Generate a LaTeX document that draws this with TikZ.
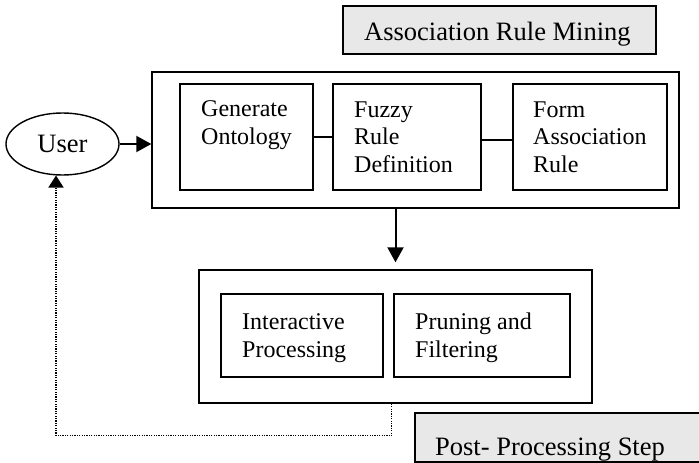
\documentclass[tikz,border=0pt]{standalone}
\usepackage{fontspec}
\setmainfont{Liberation Serif}
\usetikzlibrary{arrows.meta,shapes.geometric}
\definecolor{boxgray}{HTML}{E8E8E8}
\begin{document}
\begin{tikzpicture}[x=1pt,y=-1pt,
  box/.style={draw=black,line width=1.4pt,inner sep=0pt,rectangle},
  lbl/.style={anchor=base west,inner sep=0pt,align=left,font=\fontsize{24}{27.5}\selectfont},
  big/.style={font=\fontsize{26.5}{30}\selectfont},
  arr/.style={line width=2pt,-{Triangle[length=15pt,width=16pt]}},
  link/.style={line width=1.4pt},
  dots/.style={line width=1.4pt,dash pattern=on 1.2pt off 1.2pt,-{Triangle[length=12pt,width=15pt]}}]
\useasboundingbox (0,0) rectangle (699,463);
% boxes
\node[box,fill=boxgray,minimum width=313pt,minimum height=48pt] (arm) at (499.5,30) {};
\node[box,minimum width=527pt,minimum height=136pt] (outer1) at (415.5,140) {};
\node[box,minimum width=133pt,minimum height=106pt] (gen) at (246.5,137) {};
\node[box,minimum width=148pt,minimum height=106pt] (fuzzy) at (407,137) {};
\node[box,minimum width=154pt,minimum height=106pt] (form) at (590,137) {};
\node[box,minimum width=393pt,minimum height=133pt] (outer2) at (395.5,336.5) {};
\node[box,minimum width=162pt,minimum height=83pt] (inter) at (302,335.5) {};
\node[box,minimum width=176pt,minimum height=83pt] (prune) at (482,335.5) {};
\node[box,fill=boxgray,minimum width=287pt,minimum height=49pt] (post) at (558.5,437.5) {};
\node[ellipse,draw=black,line width=1.4pt,minimum width=113pt,minimum height=62pt,inner sep=0pt,big] (user) at (62.5,144) {User};
% texts (anchor at the baseline of the last line)
\node[lbl,big] (tarm) at (364,40) {Association Rule Mining};
\node[lbl] (tgen) at (201,144) {Generate\\Ontology};
\node[lbl] (tfuzzy) at (354,172) {Fuzzy\\Rule\\Definition};
\node[lbl] (tform) at (533,172) {Form\\Association\\Rule};
\node[lbl] (tinter) at (242,357) {Interactive\\Processing};
\node[lbl] (tprune) at (415,357) {Pruning and\\Filtering};
\node[lbl,big] (tpost) at (435,455) {Post- Processing Step};
% connectors
\coordinate (uin) at (56,175.5);
\draw[arr] (user.east) -- (outer1.west |- user.east);
\draw[link] (gen.east) -- (fuzzy.west);
\draw[link] ([yshift=-3pt]fuzzy.east) -- ([yshift=-3pt]form.west);
\draw[arr] (outer1.south -| outer2.north) -- ([yshift=7pt]outer2.north);
\draw[dots] ([xshift=-4pt]outer2.south) -- ++(0,32) -| (uin);
\end{tikzpicture}
\end{document}
